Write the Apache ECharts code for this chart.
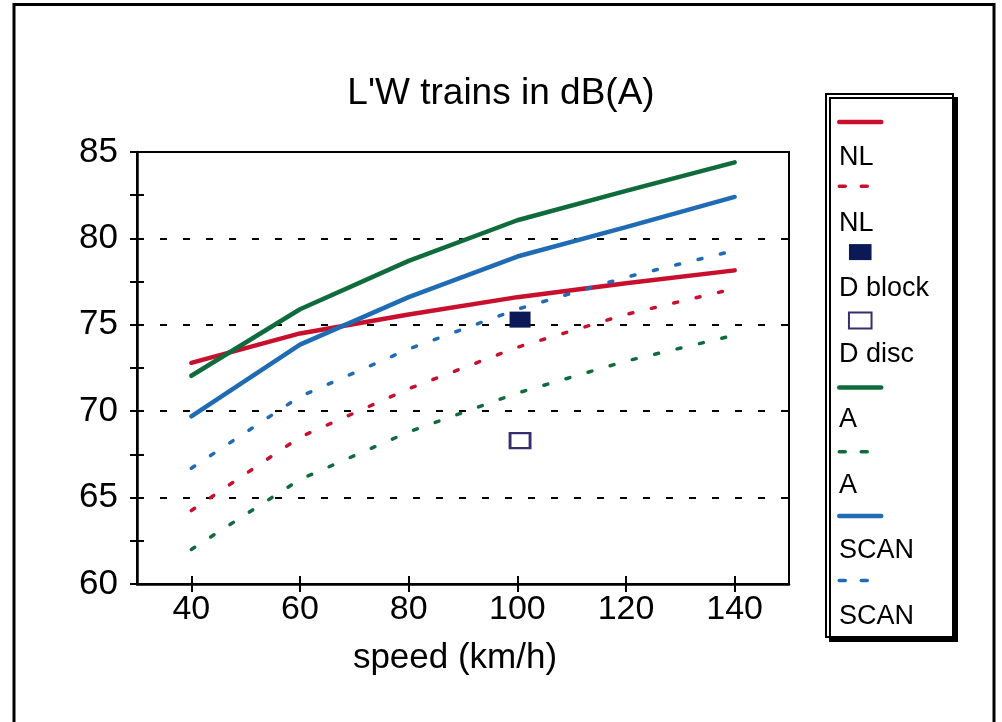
<!DOCTYPE html>
<html>
<head>
<meta charset="utf-8">
<script src="https://cdn.jsdelivr.net/npm/echarts@6/dist/echarts.min.js"></script>
<style>
html,body{margin:0;padding:0;background:#fff;}
#chart{width:1002px;height:722px;}
</style>
</head>
<body>
<div id="chart"></div>
<script>
// ---- data ----
const titleText = "L'W trains in dB(A)";
const xAxisName = 'speed (km/h)';
const speeds = [40, 60, 80, 100, 120, 140];
const xTicks = [40, 60, 80, 100, 120, 140];
const nlSolid   = [72.8, 74.5, 75.6, 76.6, 77.4, 78.15];
const nlDashed  = [64.25, 68.5, 71.3, 73.7, 75.6, 77.1];
const aSolid    = [72.05, 75.9, 78.7, 81.05, 82.75, 84.4];
const aDashed   = [62.0, 66.05, 68.8, 71.05, 72.9, 74.4];
const scanSolid = [69.7, 73.85, 76.6, 78.95, 80.65, 82.4];
const scanDashed= [66.7, 70.85, 73.6, 75.9, 77.75, 79.3];
const dBlock = [[100.5, 75.3]];
const dDisc  = [[100.5, 68.3]];
const seriesNames  = ['NL solid', 'NL dashed', 'D block', 'D disc', 'A solid', 'A dashed', 'SCAN solid', 'SCAN dashed'];
const legendLabels = ['NL', 'NL', 'D block', 'D disc', 'A', 'A', 'SCAN', 'SCAN'];

// ---- styling ----
const FONT = 'Liberation Sans';
const RED = '#c8102e', GREEN = '#0f6b3c', BLUE = '#1f6cb5', NAVY = '#0b1957', DISC = '#3a2d6e';
const DASH = [4, 19];

function pairs(ys) { return speeds.map((s, i) => [s, ys[i]]); }
function solid(name, ys, color) {
  return { type: 'line', name, data: pairs(ys), symbol: 'none', clip: false,
    lineStyle: { color, width: 4.5, cap: 'round', join: 'round' }, itemStyle: { color }, z: 3 };
}
function dashed(name, ys, color) {
  return { type: 'line', name, data: pairs(ys), symbol: 'none', clip: false,
    lineStyle: { color, width: 3.5, type: DASH, cap: 'round' }, itemStyle: { color }, z: 3 };
}

const tickStyle = { color: '#000', width: 2 };
const squareIcon = 'path://M0 0H24V17H0Z';

function legendIconItem(n, i) {
  if (i === 2 || i === 3) return { name: n, icon: squareIcon };
  const item = { name: n, itemStyle: { opacity: 0 } };
  if (n.indexOf('dashed') >= 0) item.lineStyle = { type: [6, 16] };
  return item;
}

const option = {
  animation: false,
  backgroundColor: '#fff',
  textStyle: { fontFamily: FONT },
  title: {
    text: titleText, left: 'center', top: 70,
    textStyle: { fontSize: 37, fontWeight: 'normal', color: '#000', fontFamily: FONT }
  },
  grid: { left: 137, right: 213, top: 152, bottom: 138, show: true, borderColor: '#000', borderWidth: 2, backgroundColor: 'transparent' },
  xAxis: [
    { type: 'value', min: 30, max: 150, position: 'bottom',
      axisLine: { show: true, onZero: false, lineStyle: { color: '#000', width: 2.5 } },
      axisTick: { show: true, customValues: xTicks, length: 8, lineStyle: tickStyle },
      axisLabel: { show: true, customValues: xTicks, fontSize: 34, color: '#000', margin: 9, fontFamily: FONT },
      splitLine: { show: false },
      name: xAxisName, nameLocation: 'middle', nameGap: 57,
      nameTextStyle: { fontSize: 35, color: '#000', fontFamily: FONT, padding: [0, 16, 0, 0] } },
    { type: 'value', min: 30, max: 150, position: 'bottom',
      axisLine: { show: false, onZero: false },
      axisTick: { show: true, inside: true, customValues: xTicks, length: 8, lineStyle: tickStyle },
      axisLabel: { show: false }, splitLine: { show: false } }
  ],
  yAxis: [
    { type: 'value', min: 60, max: 85, interval: 5, position: 'left',
      axisLine: { show: true, onZero: false, lineStyle: { color: '#000', width: 2.5 } },
      axisTick: { show: true, length: 7, lineStyle: tickStyle },
      minorTick: { show: true, splitNumber: 2, length: 7, lineStyle: tickStyle },
      axisLabel: { fontSize: 35, color: '#000', margin: 19, fontFamily: FONT },
      splitLine: { show: true, lineStyle: { color: '#000', width: 2.2, type: [7, 16] } },
      minorSplitLine: { show: false } },
    { type: 'value', min: 60, max: 85, interval: 5, position: 'left',
      axisLine: { show: false, onZero: false },
      axisTick: { show: true, inside: true, length: 7, lineStyle: tickStyle },
      minorTick: { show: true, splitNumber: 2, length: 7, lineStyle: tickStyle },
      axisLabel: { show: false }, splitLine: { show: false } }
  ],
  legend: [
    { // icons
      orient: 'vertical', left: 837, top: 115.5, padding: 0, itemGap: 51.5,
      itemWidth: 42, itemHeight: 16, selectedMode: false,
      lineStyle: { width: 'inherit' },
      formatter: () => ' ', textStyle: { fontSize: 8 },
      data: seriesNames.map(legendIconItem)
    },
    { // labels
      orient: 'vertical', left: 832, top: 143, padding: 0, itemGap: 35.5,
      itemWidth: 1, itemHeight: 1, selectedMode: false,
      itemStyle: { opacity: 0 }, lineStyle: { opacity: 0 },
      formatter: (name) => legendLabels[seriesNames.indexOf(name)],
      textStyle: { fontSize: 27, lineHeight: 30, color: '#000', fontFamily: FONT },
      data: seriesNames.slice()
    }
  ],
  graphic: [
    { type: 'rect', silent: true, z: -1,
      shape: { x: 14, y: 4.5, width: 980, height: 740 },
      style: { fill: 'none', stroke: '#000', lineWidth: 3 } },
    { type: 'rect', silent: true, z: 1,
      shape: { x: 826, y: 94, width: 127, height: 543 },
      style: { fill: '#fff', stroke: '#000', lineWidth: 2, shadowColor: '#000', shadowOffsetX: 4, shadowOffsetY: 4, shadowBlur: 0 } }
  ],
  series: [
    solid(seriesNames[0], nlSolid, RED),
    dashed(seriesNames[1], nlDashed, RED),
    { type: 'scatter', name: seriesNames[2], data: dBlock, symbol: 'rect', symbolSize: [21, 16],
      itemStyle: { color: NAVY, opacity: 1 }, z: 4 },
    { type: 'scatter', name: seriesNames[3], data: dDisc, symbol: 'rect', symbolSize: [20, 15],
      itemStyle: { color: '#fff', borderColor: DISC, borderWidth: 2.5, opacity: 1 }, z: 4 },
    solid(seriesNames[4], aSolid, GREEN),
    dashed(seriesNames[5], aDashed, GREEN),
    solid(seriesNames[6], scanSolid, BLUE),
    dashed(seriesNames[7], scanDashed, BLUE)
  ]
};

const chart = echarts.init(document.getElementById('chart'), null, { renderer: 'canvas' });
chart.setOption(option);
</script>
</body>
</html>
